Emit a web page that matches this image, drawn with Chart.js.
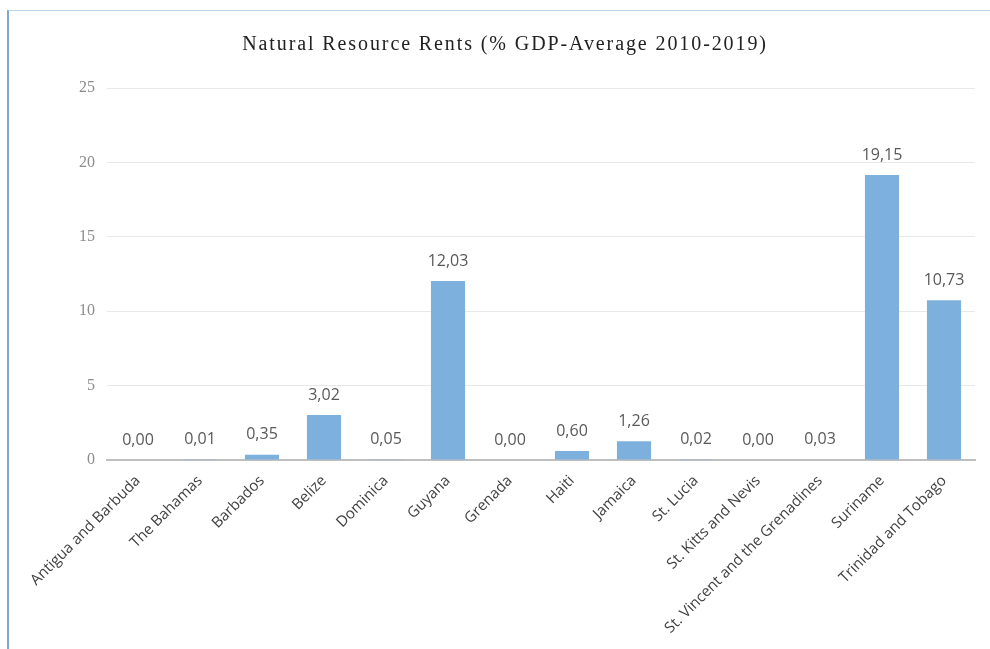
<!DOCTYPE html>
<html>
<head>
<meta charset="utf-8">
<script src="https://cdn.jsdelivr.net/npm/chart.js@4"></script>
<style>
  html, body { margin: 0; padding: 0; background: #fff; }
  .frame {
    position: absolute; left: 7px; top: 10px; right: 0; bottom: 0;
    border-left: 2px solid #7ea6d8; border-top: 1px solid #b9d0ea;
  }
  .wrap { position: absolute; left: 0; top: 0; width: 990px; height: 649px; }
</style>
</head>
<body>
<div class="frame"></div>
<div class="wrap"><canvas id="rentsChart" width="990" height="649"></canvas></div>
<script>
// chart data
const countries = ['Antigua and Barbuda', 'The Bahamas', 'Barbados', 'Belize', 'Dominica', 'Guyana', 'Grenada',
  'Haiti', 'Jamaica', 'St. Lucia', 'St. Kitts and Nevis', 'St. Vincent and the Grenadines', 'Suriname', 'Trinidad and Tobago'];
const rents = [0.00, 0.01, 0.35, 3.02, 0.05, 12.03, 0.00, 0.60, 1.26, 0.02, 0.00, 0.03, 19.15, 10.73];
const yTicks = [0, 5, 10, 15, 20, 25];

// value labels above each bar (no datalabels plugin available)
const valueLabels = {
  id: 'valueLabels',
  afterDatasetsDraw(chart) {
    const ctx = chart.ctx;
    const meta = chart.getDatasetMeta(0);
    ctx.save();
    ctx.font = '16px "Open Sans"';
    ctx.fillStyle = '#595959';
    ctx.textAlign = 'center';
    ctx.textBaseline = 'bottom';
    meta.data.forEach((bar, i) => {
      ctx.fillText(rents[i].toFixed(2).replace('.', ','), bar.x, bar.y - 12);
    });
    ctx.restore();
  }
};

// spaced-out title like the original: only the title block gets letter spacing
const titleSpacing = {
  id: 'titleSpacing',
  afterLayout(chart) {
    const block = chart.titleBlock;
    if (!block || block._spaced) return;
    const draw = block.draw.bind(block);
    block.draw = function () {
      const c = chart.ctx;
      c.save();
      c.translate(-11, 0); // original title sits a bit left of the plot centre
      c.letterSpacing = '1.9px';
      draw();
      c.letterSpacing = '0px';
      c.restore();
    };
    block._spaced = true;
  },
};

const ctx = document.getElementById('rentsChart').getContext('2d');
new Chart(ctx, {
  type: 'bar',
  data: {
    labels: countries,
    datasets: [{
      data: rents,
      backgroundColor: '#7eb0de',
      categoryPercentage: 1,
      barPercentage: 0.55,
    }],
  },
  options: {
    responsive: false,
    animation: false,
    layout: { padding: { left: 57, right: 15, top: 0, bottom: 0 } },
    plugins: {
      legend: { display: false },
      tooltip: { enabled: false },
      title: {
        display: true,
        text: 'Natural Resource Rents (% GDP-Average 2010-2019)',
        color: '#222',
        font: { family: '"Liberation Serif"', size: 20, weight: 'normal', lineHeight: 1.2 },
        padding: { top: 33, bottom: 31 },
      },
    },
    scales: {
      x: {
        grid: { display: false },
        border: { color: '#bfbfbf', width: 2 },
        ticks: {
          color: '#404040',
          font: { family: '"Open Sans"', size: 15, weight: '500' },
          minRotation: 45,
          maxRotation: 45,
          autoSkip: false,
          padding: 4,
        },
        afterFit: (s) => { s.height = 189; },
      },
      y: {
        min: 0,
        max: 25,
        afterBuildTicks: (s) => { s.ticks = yTicks.map(v => ({ value: v })); },
        grid: { color: '#e8e8e8', drawTicks: false },
        border: { display: false },
        ticks: {
          color: '#8c8c8c',
          font: { family: '"Liberation Serif"', size: 16 },
          padding: 12,
        },
        afterFit: (s) => { s.width = 50; },
      },
    },
  },
  plugins: [titleSpacing, valueLabels],
});
</script>
</body>
</html>
